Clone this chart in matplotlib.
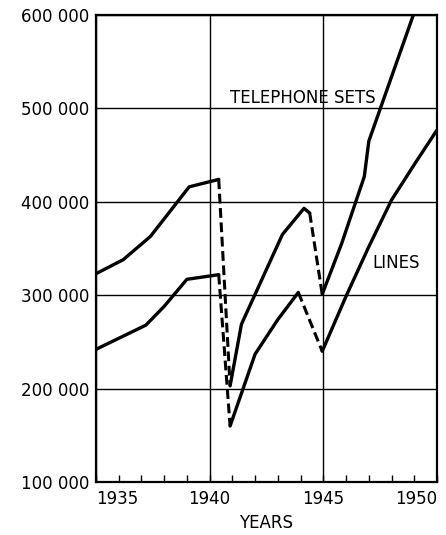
import matplotlib
matplotlib.use("Agg")
import matplotlib.pyplot as plt
from matplotlib.ticker import FixedLocator, MultipleLocator

# Telephone sets in service (years are plotted at the reading points, not whole years)
sets_years = [1935.0, 1936.2, 1937.4, 1939.1, 1940.4, 1940.9, 1941.4, 1943.2,
              1944.15, 1944.4, 1944.95, 1945.8, 1946.8, 1947.0, 1949.0]
sets_values = [323000, 338000, 363000, 416000, 424000, 203000, 269000, 365000,
               393000, 388000, 301000, 355000, 427000, 465000, 603000]
sets_gaps = [4, 9]  # segments starting at these points are drawn dashed

# Telephone lines
lines_years = [1935.0, 1937.2, 1938.0, 1939.0, 1940.4, 1940.9, 1942.0, 1943.0,
               1943.9, 1944.95, 1946.0, 1947.0, 1948.0, 1949.0, 1950.0]
lines_values = [242000, 268000, 288000, 317000, 322000, 160000, 237000, 274000,
                303000, 240000, 299000, 352000, 402000, 440000, 477000]
lines_gaps = [4, 8]

x_ticks = [1935, 1940, 1945, 1950]
y_ticks = [100000, 200000, 300000, 400000, 500000, 600000]
y_labels = ["100 000", "200 000", "300 000", "400 000", "500 000", "600 000"]

plt.rcParams["font.family"] = "DejaVu Sans"

fig = plt.figure(figsize=(4.46, 5.35), dpi=100)
ax = fig.add_axes([0.215, 0.099, 0.765, 0.873])


def draw_series(years, values, gaps):
    # split into solid runs, with dashed joins where the record is broken
    start = 0
    for g in gaps + [len(years) - 1]:
        ax.plot(years[start:g + 1], values[start:g + 1], color="black",
                linewidth=2.4, solid_joinstyle="round", solid_capstyle="round")
        if g < len(years) - 1:
            ax.plot(years[g:g + 2], values[g:g + 2], color="black",
                    linewidth=2.2, dashes=(3.2, 1.5), dash_capstyle="butt")
        start = g + 1


draw_series(sets_years, sets_values, sets_gaps)
draw_series(lines_years, lines_values, lines_gaps)

ax.set_xlim(1935, 1950)
ax.set_ylim(100000, 600000)

ax.xaxis.set_major_locator(FixedLocator(x_ticks))
ax.xaxis.set_minor_locator(MultipleLocator(1))
ax.set_xticklabels([str(y) for y in x_ticks])
ax.yaxis.set_major_locator(FixedLocator(y_ticks))
ax.set_yticklabels(y_labels)

ax.grid(True, which="major", color="black", linewidth=1.0)
ax.set_axisbelow(True)

ax.tick_params(axis="x", which="both", direction="in", length=5, width=1.0,
               labelsize=12, pad=6)
ax.tick_params(axis="y", length=0, labelsize=12, pad=5)
for lab, ha in zip(ax.get_xticklabels(), ["left", "center", "center", "right"]):
    lab.set_ha(ha)

for s in ax.spines.values():
    s.set_linewidth(1.6)

ax.set_xlabel("YEARS", fontsize=12, labelpad=4)

ax.text(1944.1, 511000, "TELEPHONE SETS", fontsize=12, ha="center", va="center")
ax.text(1948.2, 335000, "LINES", fontsize=12, ha="center", va="center")

fig.savefig("out.png", dpi=100)
